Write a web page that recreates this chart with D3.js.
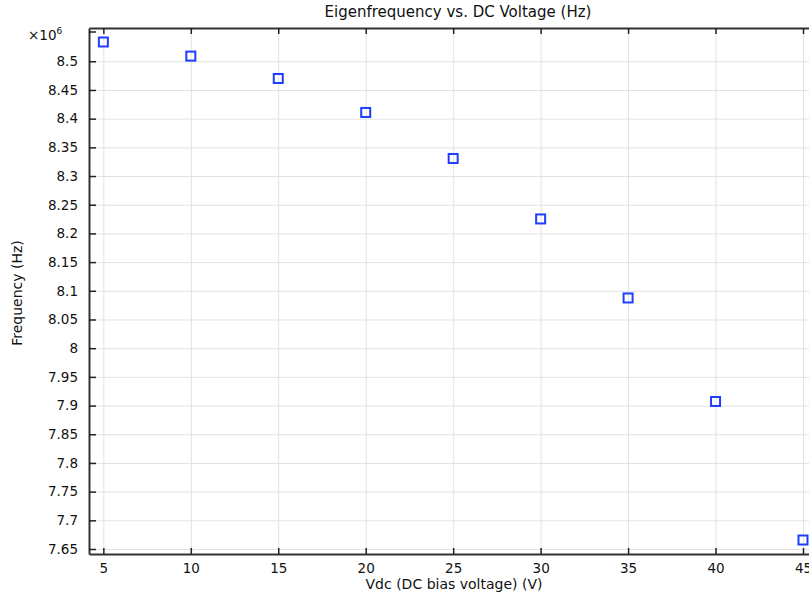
<!DOCTYPE html>
<html>
<head>
<meta charset="utf-8">
<script src="https://cdn.jsdelivr.net/npm/d3@7"></script>
<style>
  body { margin: 0; background: #fff; }
  svg { display: block; font-family: "DejaVu Sans", sans-serif; }
  .grid line { stroke: #e2e2e2; stroke-width: 1; }
  .grid path { display: none; }
</style>
</head>
<body>
<div id="chart"></div>
<script>
// ------------------------------------------------------------
// Data (frequency in units of 1e6 Hz)
// ------------------------------------------------------------
const vdc = [5, 10, 15, 20, 25, 30, 35, 40, 45];
const freq = [8.5336, 8.509, 8.470, 8.4108, 8.3306, 8.2252, 8.0875, 7.9071, 7.6657];
const xTicks = [5, 10, 15, 20, 25, 30, 35, 40, 45];
const yTicks = [7.65, 7.7, 7.75, 7.8, 7.85, 7.9, 7.95, 8, 8.05, 8.1, 8.15, 8.2, 8.25, 8.3, 8.35, 8.4, 8.45, 8.5];

const width = 809, height = 595;
const margin = { top: 28, right: -8, bottom: 41, left: 89 };

const svg = d3.select("#chart").append("svg")
  .attr("width", width)
  .attr("height", height);

const x = d3.scaleLinear()
  .domain([4.18, 45.8])
  .range([margin.left, width - margin.right]);

const y = d3.scaleLinear()
  .domain([7.6413, 8.558])
  .range([height - margin.bottom, margin.top]);

// Grid
svg.append("g").attr("class", "grid")
  .attr("transform", `translate(0,${height - margin.bottom})`)
  .call(d3.axisBottom(x).tickValues(xTicks).tickSize(-(height - margin.top - margin.bottom)).tickFormat(""));

svg.append("g").attr("class", "grid")
  .attr("transform", `translate(${margin.left},0)`)
  .call(d3.axisLeft(y).tickValues(yTicks).tickSize(-(width - margin.left - margin.right)).tickFormat(""));

// Axes (ticks pointing inward)
const fmt = d => d3.format("")(+d.toFixed(2));

const xAxis = svg.append("g")
  .attr("transform", `translate(0,${height - margin.bottom})`)
  .call(d3.axisBottom(x).tickValues(xTicks).tickSizeInner(-6).tickSizeOuter(0).tickPadding(9).tickFormat(d => d));

const xTop = svg.append("g")
  .attr("transform", `translate(0,${margin.top})`)
  .call(d3.axisTop(x).tickValues(xTicks).tickSizeInner(-6).tickSizeOuter(0).tickFormat(""));

const yAxis = svg.append("g")
  .attr("transform", `translate(${margin.left},0)`)
  .call(d3.axisLeft(y).tickValues(yTicks).tickSizeInner(-7).tickSizeOuter(0).tickPadding(11).tickFormat(fmt));

[xAxis, xTop, yAxis].forEach(g => {
  g.select(".domain").attr("stroke", "#333").attr("stroke-width", 2);
  g.selectAll(".tick line").attr("stroke", "#222").attr("stroke-width", 1.5);
  g.selectAll(".tick text").attr("font-size", 13.5).attr("fill", "#111")
    .attr("font-family", "DejaVu Sans, sans-serif");
});

// Top-left tick at plot corner
svg.append("line")
  .attr("x1", margin.left).attr("x2", margin.left + 7)
  .attr("y1", margin.top + 4).attr("y2", margin.top + 4)
  .attr("stroke", "#222").attr("stroke-width", 1.5);

// Exponent label
const expLabel = svg.append("text")
  .attr("x", 28)
  .attr("y", 40)
  .attr("font-size", 13.5)
  .attr("fill", "#111");
expLabel.append("tspan").text("×10");
expLabel.append("tspan").attr("font-size", 9).attr("dy", -6).text("6");

// Title
svg.append("text")
  .attr("x", 458)
  .attr("y", 17)
  .attr("text-anchor", "middle")
  .attr("font-size", 15)
  .attr("fill", "#111")
  .text("Eigenfrequency vs. DC Voltage (Hz)");

// Axis labels
svg.append("text")
  .attr("x", 454)
  .attr("y", 589)
  .attr("text-anchor", "middle")
  .attr("font-size", 14)
  .attr("fill", "#111")
  .text("Vdc (DC bias voltage) (V)");

svg.append("text")
  .attr("transform", "rotate(-90)")
  .attr("x", -293)
  .attr("y", 22)
  .attr("text-anchor", "middle")
  .attr("font-size", 14)
  .attr("fill", "#111")
  .text("Frequency (Hz)");

// Markers
svg.selectAll(".pt")
  .data(vdc.map((v, i) => ({ v, f: freq[i] })))
  .join("rect")
  .attr("class", "pt")
  .attr("x", d => x(d.v) - 4.5)
  .attr("y", d => y(d.f) - 4.5)
  .attr("width", 9)
  .attr("height", 9)
  .attr("fill", "none")
  .attr("stroke", "#1f3dff")
  .attr("stroke-width", 2);
</script>
</body>
</html>
